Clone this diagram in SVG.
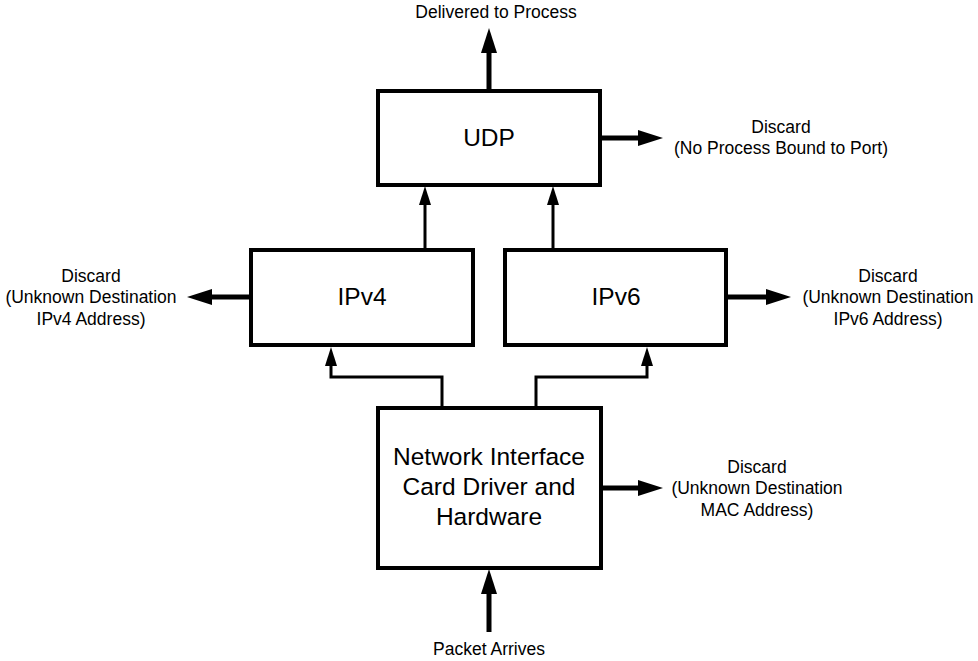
<svg xmlns="http://www.w3.org/2000/svg" width="978" height="661" viewBox="0 0 978 661">
  <style>
    .box { fill: #ffffff; stroke: #000000; stroke-width: 4; }
    .big { font-family: "Liberation Sans", Arial, sans-serif; font-size: 24.5px; fill: #000000; text-anchor: middle; }
    .lbl { font-family: "Liberation Sans", Arial, sans-serif; font-size: 17.5px; fill: #000000; text-anchor: middle; }
    .ext { fill: none; stroke: #000000; stroke-width: 5; marker-end: url(#bigArrow); }
    .int { fill: none; stroke: #000000; stroke-width: 3; marker-end: url(#smallArrow); }
  </style>
  <defs>
    <marker id="bigArrow" markerUnits="userSpaceOnUse" markerWidth="25" markerHeight="16" refX="4" refY="8" orient="auto">
      <path d="M0,0 L25,8 L0,16 z" fill="#000000"/>
    </marker>
    <marker id="smallArrow" markerUnits="userSpaceOnUse" markerWidth="19" markerHeight="12" refX="3" refY="6" orient="auto">
      <path d="M0,0 L19,6 L0,12 z" fill="#000000"/>
    </marker>
  </defs>
  <rect width="978" height="661" fill="#ffffff"/>

  <g id="connectors">
    <path class="ext" d="M489,91 V49"/>
    <path class="ext" d="M601,138 H642"/>
    <path class="ext" d="M250,297 H208"/>
    <path class="ext" d="M727,297 H770"/>
    <path class="ext" d="M602,488 H642"/>
    <path class="ext" d="M489,632 V590"/>
    <path class="int" d="M425,249 V202"/>
    <path class="int" d="M553,249 V202"/>
    <path class="int" d="M442,407 V377 H331 V363"/>
    <path class="int" d="M536,407 V377 H647 V363"/>
  </g>

  <g id="udp">
    <rect class="box" x="378" y="91" width="222" height="94"/>
    <text class="big" x="489" y="146">UDP</text>
  </g>
  <g id="ipv4">
    <rect class="box" x="251" y="250" width="222" height="95"/>
    <text class="big" x="362" y="305">IPv4</text>
  </g>
  <g id="ipv6">
    <rect class="box" x="505" y="250" width="221" height="95"/>
    <text class="big" x="616" y="305">IPv6</text>
  </g>
  <g id="nic">
    <rect class="box" x="378" y="408" width="223" height="160"/>
    <text class="big" x="489" y="465">Network Interface</text>
    <text class="big" x="489" y="495">Card Driver and</text>
    <text class="big" x="489" y="525">Hardware</text>
  </g>

  <g id="label-delivered">
    <text class="lbl" x="496" y="18">Delivered to Process</text>
  </g>
  <g id="label-packet">
    <text class="lbl" x="489" y="655">Packet Arrives</text>
  </g>
  <g id="label-udp-discard">
    <text class="lbl" x="781" y="133">Discard</text>
    <text class="lbl" x="781" y="154">(No Process Bound to Port)</text>
  </g>
  <g id="label-ipv4-discard">
    <text class="lbl" x="91" y="282">Discard</text>
    <text class="lbl" x="91" y="303">(Unknown Destination</text>
    <text class="lbl" x="91" y="325">IPv4 Address)</text>
  </g>
  <g id="label-ipv6-discard">
    <text class="lbl" x="888" y="282">Discard</text>
    <text class="lbl" x="888" y="303">(Unknown Destination</text>
    <text class="lbl" x="888" y="325">IPv6 Address)</text>
  </g>
  <g id="label-mac-discard">
    <text class="lbl" x="757" y="473">Discard</text>
    <text class="lbl" x="757" y="494">(Unknown Destination</text>
    <text class="lbl" x="757" y="516">MAC Address)</text>
  </g>
</svg>
